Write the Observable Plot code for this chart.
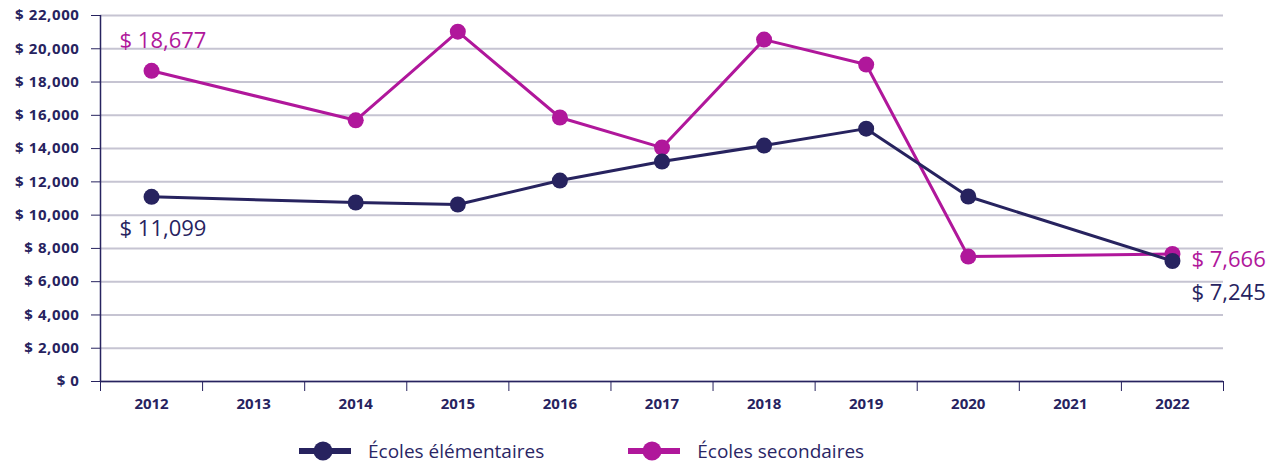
<!DOCTYPE html>
<html><head><meta charset="utf-8">
<script src="https://cdn.jsdelivr.net/npm/d3@7"></script>
<script src="https://cdn.jsdelivr.net/npm/@observablehq/plot@0.6"></script>
<style>
body{margin:0;background:#fff;font-family:"Open Sans",sans-serif;}
#legend{display:flex;align-items:center;box-sizing:border-box;height:37px;padding-top:14px;padding-left:299px;color:#2a2665;font-size:19px;}
.item{display:flex;align-items:center;}
.item span{margin-left:17px;}
g[aria-label="y-axis tick label"] text{letter-spacing:0.6px;}
</style></head>
<body><div id="chart"></div><div id="legend"></div>
<script>
const years = [2012, 2014, 2015, 2016, 2017, 2018, 2019, 2020, 2022];
const elementary = [11099, 10760, 10640, 12080, 13220, 14180, 15200, 11120, 7245];
const secondary = [18677, 15700, 21030, 15870, 14060, 20550, 19050, 7510, 7666];
const tickYears = [2012, 2013, 2014, 2015, 2016, 2017, 2018, 2019, 2020, 2021, 2022];
const yTicks = [0, 2000, 4000, 6000, 8000, 10000, 12000, 14000, 16000, 18000, 20000, 22000];
const seriesNames = ["Écoles élémentaires", "Écoles secondaires"];
const navy = "#27235f", magenta = "#b0179b";

const elemData = years.map((y, i) => ({year: y, value: elementary[i]}));
const secData = years.map((y, i) => ({year: y, value: secondary[i]}));
const fmt = v => "$ " + d3.format(",")(v);
const boundaries = tickYears.map(y => y - 0.5).concat([tickYears[tickYears.length - 1] + 0.5]);

const chart = Plot.plot({
  width: 1268, height: 425,
  marginLeft: 100, marginRight: 45, marginTop: 15, marginBottom: 44,
  style: {fontFamily: "'Open Sans', sans-serif", color: navy},
  x: {domain: [2011.5, 2022.5]},
  y: {domain: [0, 22000]},
  marks: [
    Plot.gridY(yTicks, {stroke: "#c6c4d2", strokeOpacity: 1, strokeWidth: 2}),
    Plot.axisY(yTicks, {tickFormat: fmt, tickSize: 9, tickPadding: 12, stroke: navy, fill: navy, fontSize: 15, fontWeight: 700, label: null}),
    Plot.axisX(boundaries, {tickSize: 10, tickFormat: () => "", stroke: navy, label: null}),
    Plot.axisX(tickYears, {tickSize: 0, tickPadding: 17, tickFormat: d => String(d), fill: navy, fontSize: 15, fontWeight: 700, label: null}),
    Plot.ruleX([2011.5], {stroke: navy, strokeWidth: 1.5}),
    Plot.ruleY([0], {stroke: navy, strokeWidth: 1.5}),
    Plot.line(secData, {x: "year", y: "value", stroke: magenta, strokeWidth: 3}),
    Plot.line(elemData, {x: "year", y: "value", stroke: navy, strokeWidth: 3}),
    Plot.dot(secData, {x: "year", y: "value", fill: magenta, r: 8}),
    Plot.dot(elemData, {x: "year", y: "value", fill: navy, r: 8}),
    Plot.text([secData[0]], {x: "year", y: "value", text: d => fmt(d.value), fill: magenta, fontSize: 22, textAnchor: "start", dx: -32, dy: -30}),
    Plot.text([elemData[0]], {x: "year", y: "value", text: d => fmt(d.value), fill: navy, fontSize: 22, textAnchor: "start", dx: -32, dy: 32}),
    Plot.text([secData[secData.length - 1]], {x: "year", y: "value", text: d => fmt(d.value), fill: magenta, fontSize: 22, textAnchor: "start", dx: 19, dy: 6}),
    Plot.text([elemData[elemData.length - 1]], {x: "year", y: "value", text: d => fmt(d.value), fill: navy, fontSize: 22, textAnchor: "start", dx: 19, dy: 32})
  ]
});
document.getElementById("chart").appendChild(chart);

const legend = document.getElementById("legend");
[navy, magenta].forEach((c, i) => {
  const item = document.createElement("div");
  item.className = "item";
  if (i === 1) item.style.marginLeft = "84px";
  item.innerHTML = `<svg width="52" height="20"><line x1="0" x2="52" y1="10" y2="10" stroke="${c}" stroke-width="6"/><circle cx="24" cy="10" r="9.5" fill="${c}"/></svg><span>${seriesNames[i]}</span>`;
  legend.appendChild(item);
});
</script></body></html>
